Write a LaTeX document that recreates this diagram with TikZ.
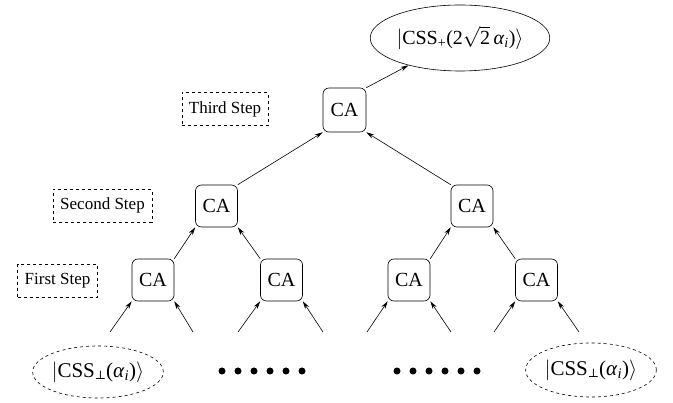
\documentclass[tikz,border=0pt]{standalone}
\usepackage{fontspec}
\setmainfont{Liberation Serif}
\newfontfamily\symfont{DejaVu Serif}
\usetikzlibrary{shapes.geometric,arrows.meta}
\newcommand{\ket}[1]{\ensuremath{\bigl|}#1\ensuremath{\bigr\rangle}}
\newcommand{\perpsub}{\raisebox{-0.25ex}{\fontsize{12}{12}\selectfont\symfont ⊥}}
\begin{document}
\begin{tikzpicture}[x=1pt,y=-1pt,
  ca/.style={draw,rounded corners=6pt,minimum width=42pt,minimum height=42pt,inner sep=0pt,line width=0.6pt,font=\fontsize{20}{24}\selectfont},
  steplbl/.style={draw,dashed,inner xsep=7pt,inner ysep=3pt,minimum height=33pt,font=\fontsize{17}{20}\selectfont},
  ket/.style={ellipse,draw,inner sep=0pt,line width=0.6pt,font=\fontsize{20}{24}\selectfont},
  arr/.style={-{Stealth[length=8pt,width=4.5pt]},line width=0.6pt},
  dot/.style={circle,fill=black,inner sep=0pt,minimum size=7pt}]
\useasboundingbox (0,0) rectangle (673,403);
% top ket
\node[ket,minimum width=164pt,minimum height=66pt] (top) at (460,38)
  {\ket{CSS\textsubscript{+}(2$\sqrt{\mbox{2}}$\,\textit{α}\textsubscript{\textit{i}})}};
% CA nodes
\node[ca,minimum width=43pt,minimum height=44pt] (c3) at (344.5,110) {CA};
\node[ca] (c2a) at (216.5,206) {CA};
\node[ca] (c2b) at (472,206) {CA};
\node[ca] (c1a) at (153,280) {CA};
\node[ca] (c1b) at (281.5,280) {CA};
\node[ca] (c1c) at (409,280) {CA};
\node[ca] (c1d) at (536.5,280) {CA};
% step labels
\node[steplbl] (s3) at (225,109) {Third Step};
\node[steplbl] (s2) at (102.5,205.5) {Second Step};
\node[steplbl] (s1) at (57.5,280.5) {First Step};
% bottom kets
\node[ket,dashed,minimum width=127pt,minimum height=52pt,font=\fontsize{21}{24}\selectfont] (bl) at (98,372)
  {\ket{CSS\perpsub(\textit{α}\textsubscript{\textit{i}})}};
\node[ket,dashed,minimum width=128pt,minimum height=54pt,font=\fontsize{21}{24}\selectfont] (br) at (591,370)
  {\ket{CSS\perpsub(\textit{α}\textsubscript{\textit{i}})}};
% dots
\foreach \i in {0,...,5} {
  \node[dot] (dl\i) at ({222+16*\i},371) {};
  \node[dot] (dr\i) at ({397+16*\i},371) {};
}
% free ends of bottom arrows
\coordinate (a1) at (110,332); \coordinate (a2) at (193,332);
\coordinate (b1) at (238,332); \coordinate (b2) at (323,332);
\coordinate (c1) at (367,332); \coordinate (c2) at (451,332);
\coordinate (d1) at (494,332); \coordinate (d2) at (579,332);
\draw[arr] (a1) -- (c1a.south west);
\draw[arr] (a2) -- (c1a.south east);
\draw[arr] (b1) -- (c1b.south west);
\draw[arr] (b2) -- (c1b.south east);
\draw[arr] (c1) -- (c1c.south west);
\draw[arr] (c2) -- (c1c.south east);
\draw[arr] (d1) -- (c1d.south west);
\draw[arr] (d2) -- (c1d.south east);
% tree edges
\draw[arr] (c1a.north east) -- (c2a.south west);
\draw[arr] (c1b.north west) -- (c2a.south east);
\draw[arr] (c1c.north east) -- (c2b.south west);
\draw[arr] (c1d.north west) -- (c2b.south east);
\draw[arr] (c2a.north east) -- (c3.south west);
\draw[arr] (c2b.north west) -- (c3.south east);
\draw[arr] (c3.north east) -- (top);
\end{tikzpicture}
\end{document}
